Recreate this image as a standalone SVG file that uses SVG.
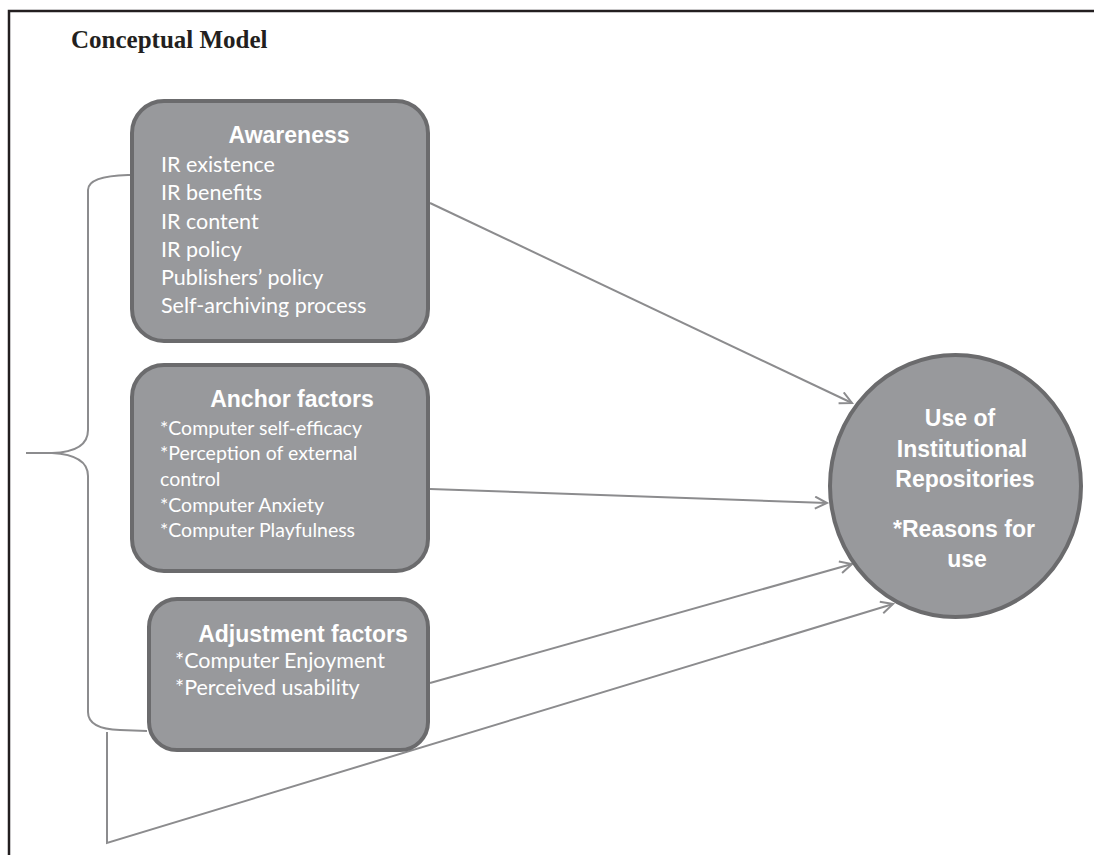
<svg xmlns="http://www.w3.org/2000/svg" width="1094" height="855" viewBox="0 0 1094 855">
<style>
.box{fill:#98999c;stroke:#6b6b6d;stroke-width:4}
.hd{font-family:"Liberation Sans",Arial,sans-serif;font-weight:bold;font-size:23px;fill:#ffffff}
.bd{font-family:Lato,"Open Sans",sans-serif;fill:#ffffff}
.cn{fill:none;stroke:#8c8c8e;stroke-width:2}
.title{font-family:"Liberation Serif","Times New Roman",serif;font-weight:bold;font-size:25px;fill:#231f20}
</style>
<defs>
<marker id="arr" markerUnits="userSpaceOnUse" markerWidth="16" markerHeight="16" refX="13" refY="7" orient="auto">
<path d="M1,1 L13,7 L1,13" fill="none" stroke="#8c8c8e" stroke-width="2"/>
</marker>
</defs>
<rect x="0" y="0" width="1094" height="855" fill="#ffffff"/>
<g id="frame">
<path d="M9,855 L9,11 L1094,11" fill="none" stroke="#231f20" stroke-width="2.5"/>
<text class="title" x="71" y="48">Conceptual Model</text>
</g>
<g id="connectors">
<path class="cn" d="M150,175 L128,175 Q88,176 88,190 L88,430 Q88,452 52,453 L26,453 M52,453 Q88,455 88,476 L88,712 Q88,729 120,730 L147,731"/>
<path class="cn" d="M107,732 L107,843 L893,604" marker-end="url(#arr)"/>
<line class="cn" x1="430" y1="203" x2="852" y2="403" marker-end="url(#arr)"/>
<line class="cn" x1="430" y1="489" x2="827" y2="503" marker-end="url(#arr)"/>
<line class="cn" x1="430" y1="683" x2="852" y2="564" marker-end="url(#arr)"/>
</g>
<g id="awareness">
<rect class="box" x="132" y="101" width="296" height="240" rx="32"/>
<text class="hd" x="289" y="143" text-anchor="middle">Awareness</text>
<g class="bd" font-size="21.5">
<text x="161" y="172">IR existence</text>
<text x="161" y="200">IR benefits</text>
<text x="161" y="229">IR content</text>
<text x="161" y="257">IR policy</text>
<text x="161" y="285">Publishers’ policy</text>
<text x="161" y="313">Self-archiving process</text>
</g>
</g>
<g id="anchor">
<rect class="box" x="132" y="365" width="296" height="206" rx="32"/>
<text class="hd" x="292" y="407" text-anchor="middle">Anchor factors</text>
<g class="bd" font-size="19.5">
<text x="160" y="435">*Computer self-efficacy</text>
<text x="160" y="460">*Perception of external</text>
<text x="160" y="486">control</text>
<text x="160" y="512">*Computer Anxiety</text>
<text x="160" y="537">*Computer Playfulness</text>
</g>
</g>
<g id="adjustment">
<rect class="box" x="149" y="599" width="279" height="151" rx="28"/>
<text class="hd" x="303" y="642" text-anchor="middle">Adjustment factors</text>
<g class="bd" font-size="21.5">
<text x="175" y="668">*Computer Enjoyment</text>
<text x="175" y="695">*Perceived usability</text>
</g>
</g>
<g id="use">
<ellipse class="box" cx="955.5" cy="486" rx="125.5" ry="131"/>
<text class="hd" x="960" y="426" text-anchor="middle">Use of</text>
<text class="hd" x="962" y="457" text-anchor="middle">Institutional</text>
<text class="hd" x="965" y="487" text-anchor="middle" font-size="21">Repositories</text>
<text class="hd" x="964" y="537" text-anchor="middle" font-size="21">*Reasons for</text>
<text class="hd" x="967" y="567" text-anchor="middle" font-size="21">use</text>
</g>
</svg>
